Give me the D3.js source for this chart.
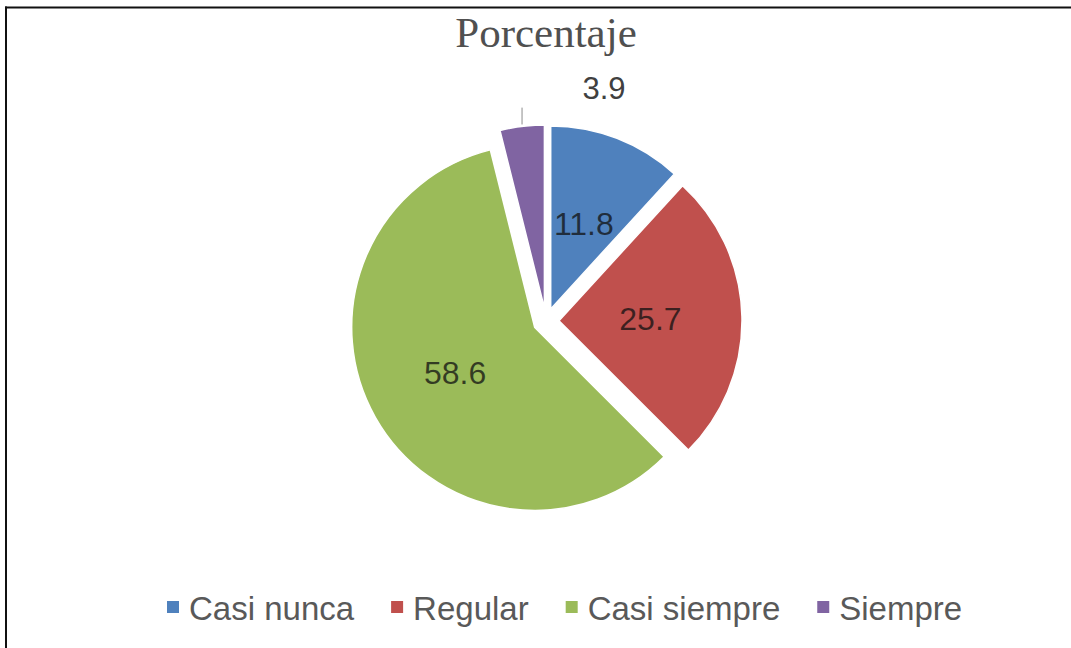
<!DOCTYPE html>
<html><head><meta charset="utf-8">
<script src="https://cdn.jsdelivr.net/npm/d3@7"></script>
<style>html,body{margin:0;padding:0;background:#fff;}</style>
</head><body>
<svg id="c" width="1071" height="648"></svg>
<script>
const categories = ["Casi nunca", "Regular", "Casi siempre", "Siempre"];
const values = [11.8, 25.7, 58.6, 3.9];
const labels = ["11.8", "25.7", "58.6", "3.9"];
const colors = ["#4F81BD", "#C0504D", "#9BBB59", "#8064A2"];
const title = "Porcentaje";

const svg = d3.select("#c");
// frame
svg.append("line").attr("x1", 5).attr("x2", 1071).attr("y1", 7.5).attr("y2", 7.5).attr("stroke", "#111").attr("stroke-width", 2);
svg.append("line").attr("x1", 6).attr("x2", 6).attr("y1", 6.5).attr("y2", 648).attr("stroke", "#111").attr("stroke-width", 2);

svg.append("text").attr("x", 546).attr("y", 47).attr("text-anchor", "middle")
  .attr("font-family", "Liberation Serif, serif").attr("font-size", 43).attr("fill", "#505050").text(title);

const cx = 546, cy = 321, R = 183, explode = 13;
const pie = d3.pie().sort(null).value(d => d)(values);
const arc = d3.arc().innerRadius(0).outerRadius(R);
const g = svg.append("g").attr("transform", `translate(${cx},${cy})`);

const offset = d => {
  const a = (d.startAngle + d.endAngle) / 2;
  return [Math.sin(a) * explode, -Math.cos(a) * explode];
};

const sl = g.selectAll("g.slice").data(pie).enter().append("g")
  .attr("transform", d => { const o = offset(d); return `translate(${o[0]},${o[1]})`; });
sl.append("path").attr("d", arc).attr("fill", (d, i) => colors[i]).attr("stroke", "#fff").attr("stroke-width", 1.5);

sl.each(function (d, i) {
  const s = d3.select(this);
  const a = (d.startAngle + d.endAngle) / 2;
  if (d.value > 8) {
    const rr = R * 0.5;
    s.append("text").attr("x", Math.sin(a) * rr).attr("y", -Math.cos(a) * rr).attr("dy", "0.36em")
      .attr("text-anchor", "middle").attr("font-family", "Liberation Sans, Arial, sans-serif")
      .attr("font-size", 32).attr("fill", "#111").attr("fill-opacity", 0.75).text(labels[i]);
  } else {
    const x0 = Math.sin(a) * R, y0 = -Math.cos(a) * R;
    const x1 = Math.sin(a) * (R + 19), y1 = -Math.cos(a) * (R + 19);
    s.append("line").attr("x1", x0).attr("y1", y0 - 2).attr("x2", x0).attr("y2", y1)
      .attr("stroke", "#8c8c8c").attr("stroke-width", 1);
    s.append("text").attr("x", x0 + 82).attr("y", y1 - 9)
      .attr("text-anchor", "middle").attr("font-family", "Liberation Sans, Arial, sans-serif")
      .attr("font-size", 31).attr("fill", "#404040").text(labels[i]);
  }
});

// legend
const lg = svg.append("g");
let x = 167;
categories.forEach((c, i) => {
  lg.append("rect").attr("x", x).attr("y", 601).attr("width", 12).attr("height", 12).attr("fill", colors[i]);
  const t = lg.append("text").attr("x", x + 22).attr("y", 620)
    .attr("font-family", "Liberation Sans, Arial, sans-serif").attr("font-size", 33)
    .attr("fill", "#595959").text(c);
  const w = t.node().getComputedTextLength();
  x += 22 + w + 37;
});
</script>
</body></html>
